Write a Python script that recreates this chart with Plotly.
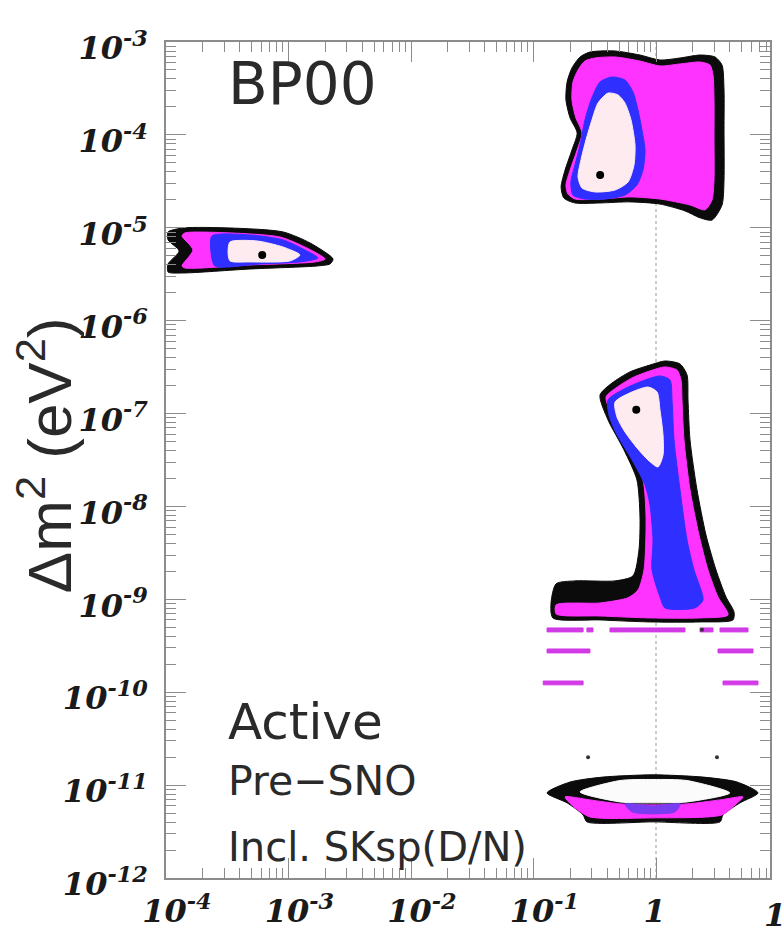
import math
import plotly.graph_objects as go

# ---------------- axis ticks ----------------
x_range_log = [-4, 0.9306]
x_tick_vals = [1e-4, 1e-3, 1e-2, 1e-1, 1]
# the label at 1 carries a transparent tail so that its digit stays centred on the tick
x_tick_text = ["10<sup>-4</sup>", "10<sup>-3</sup>", "10<sup>-2</sup>", "10<sup>-1</sup>",
               "1<span style='color:rgba(0,0,0,0)'><sup>-1</sup></span>"]
x_edge_label = "10"
x_edge_value = 10
y_tick_vals = [1e-12, 1e-11, 1e-10, 1e-9, 1e-8, 1e-7, 1e-6, 1e-5, 1e-4, 1e-3]
y_tick_text = ["10<sup>-12</sup>", "10<sup>-11</sup>", "10<sup>-10</sup>", "10<sup>-9</sup>",
               "10<sup>-8</sup>", "10<sup>-7</sup>", "10<sup>-6</sup>", "10<sup>-5</sup>",
               "10<sup>-4</sup>", "10<sup>-3</sup>"]

# ---------------- allowed regions (tan^2 theta, dm^2 in eV^2) ----------------
# LMA
lma_997_tan2 = [0.206, 0.240, 0.289, 0.463, 0.740, 1.078, 1.570, 2.287, 3.032, 3.458, 3.591, 3.591,
                3.591, 3.458, 2.865, 2.287, 1.725, 1.078, 0.613, 0.349, 0.218, 0.177, 0.168, 0.181,
                0.206, 0.227, 0.199, 0.184, 0.188]
lma_997_dm2 = [5.25e-4, 6.90e-4, 7.80e-4, 8.0e-4, 7.24e-4, 6.40e-4, 6.73e-4, 7.24e-4, 6.90e-4, 5.65e-4,
               3.04e-4, 1.13e-4, 3.27e-5, 1.76e-5, 1.21e-5, 1.28e-5, 1.52e-5, 1.80e-5, 1.90e-5, 1.85e-5,
               1.85e-5, 2.09e-5, 2.75e-5, 4.19e-5, 6.88e-5, 1.05e-4, 1.52e-4, 2.38e-4, 3.71e-4]
lma_99_tan2 = [0.231, 0.263, 0.318, 0.463, 0.740, 1.078, 1.570, 2.287, 2.759, 2.920, 2.976, 2.976,
               2.976, 2.865, 2.512, 1.895, 1.078, 0.613, 0.349, 0.218, 0.191, 0.184, 0.199, 0.227,
               0.249, 0.222, 0.206, 0.210]
lma_99_dm2 = [5.0e-4, 6.24e-4, 6.73e-4, 6.90e-4, 6.24e-4, 5.52e-4, 5.80e-4, 6.09e-4, 5.65e-4, 4.42e-4,
              2.38e-4, 8.81e-5, 3.27e-5, 1.99e-5, 1.56e-5, 1.76e-5, 2.04e-5, 2.15e-5, 2.04e-5, 2.04e-5,
              2.31e-5, 2.89e-5, 4.19e-5, 6.88e-5, 1.05e-4, 1.52e-4, 2.38e-4, 3.71e-4]
lma_95_tan2 = [0.349, 0.437, 0.558, 0.649, 0.713, 0.768, 0.813, 0.783, 0.699, 0.558, 0.384, 0.263,
               0.210, 0.202, 0.218, 0.240, 0.263, 0.295]
lma_95_dm2 = [3.71e-4, 4.20e-4, 3.90e-4, 2.90e-4, 1.85e-4, 1.13e-4, 6.88e-5, 4.19e-5, 2.89e-5, 2.25e-5,
              2.04e-5, 2.04e-5, 2.25e-5, 3.11e-5, 4.74e-5, 7.78e-5, 1.45e-4, 2.38e-4]
lma_90_tan2 = [0.406, 0.490, 0.558, 0.625, 0.674, 0.661, 0.591, 0.463, 0.318, 0.249, 0.231, 0.244,
               0.268, 0.300, 0.336]
lma_90_dm2 = [2.82e-4, 2.69e-4, 2.20e-4, 1.45e-4, 7.78e-5, 4.74e-5, 3.11e-5, 2.55e-5, 2.43e-5, 2.68e-5,
              3.52e-5, 5.37e-5, 8.81e-5, 1.45e-4, 2.20e-4]

# LOW
low_997_tan2 = [0.349, 0.437, 0.613, 0.893, 1.184, 1.570, 1.791, 1.825, 1.895, 2.161, 2.559, 3.090,
                3.728, 4.333, 4.252, 2.287, 0.893, 0.349, 0.144, 0.139, 0.153, 0.218, 0.463, 0.649,
                0.726, 0.740, 0.699, 0.548, 0.406]
low_997_dm2 = [1.58e-7, 2.13e-7, 2.81e-7, 3.33e-7, 3.68e-7, 3.42e-7, 2.61e-7, 1.40e-7, 5.20e-8, 1.51e-8,
               4.93e-9, 2.07e-9, 1.06e-9, 7.32e-10, 6.00e-10, 5.71e-10, 5.71e-10, 6.00e-10, 6.31e-10,
               9.14e-10, 1.47e-9, 1.58e-9, 1.58e-9, 1.79e-9, 3.40e-9, 7.71e-9, 1.93e-8, 4.06e-8, 8.53e-8]
low_99_tan2 = [0.391, 0.472, 0.637, 0.893, 1.184, 1.484, 1.600, 1.630, 1.693, 1.895, 2.244, 2.657,
               3.207, 3.871, 2.287, 0.893, 0.349, 0.153, 0.153, 0.349, 0.591, 0.713, 0.798, 0.829,
               0.783, 0.613, 0.454]
low_99_dm2 = [1.51e-7, 1.89e-7, 2.42e-7, 2.88e-7, 3.18e-7, 2.94e-7, 2.30e-7, 1.40e-7, 5.20e-8, 1.51e-8,
              4.93e-9, 2.07e-9, 1.06e-9, 6.79e-10, 6.31e-10, 6.31e-10, 6.62e-10, 6.97e-10, 8.71e-10,
              9.14e-10, 1.04e-9, 1.26e-9, 2.07e-9, 7.71e-9, 1.93e-8, 4.06e-8, 8.53e-8]
low_95_tan2 = [0.406, 0.528, 0.740, 1.078, 1.301, 1.351, 1.403, 1.570, 1.791, 2.043, 2.419, 2.082,
               1.184, 1.078, 0.928, 0.945, 0.893, 0.813, 0.637, 0.472, 0.413]
low_95_dm2 = [1.40e-7, 1.79e-7, 2.19e-7, 2.54e-7, 2.30e-7, 1.40e-7, 5.20e-8, 1.51e-8, 4.36e-9, 2.07e-9,
              9.86e-10, 8.09e-10, 8.09e-10, 1.06e-9, 2.07e-9, 4.36e-9, 1.04e-8, 1.71e-8, 3.17e-8,
              6.18e-8, 9.66e-8]
low_90_tan2 = [0.463, 0.613, 0.860, 1.019, 1.078, 1.141, 1.141, 1.038, 0.860, 0.699, 0.558, 0.480]
low_90_dm2 = [1.33e-7, 1.67e-7, 1.93e-7, 1.71e-7, 1.09e-7, 5.89e-8, 3.58e-8, 2.66e-8, 3.17e-8, 4.27e-8,
              6.34e-8, 9.19e-8]

# SMA
sma_997_tan2 = [1.04e-4, 1.38e-4, 3.33e-4, 9.02e-4, 1.50e-3, 2.31e-3, 2.18e-3, 1.71e-3, 4.85e-4, 1.38e-4,
                1.04e-4, 1.04e-4, 1.28e-4, 1.04e-4]
sma_997_dm2 = [9.02e-6, 9.95e-6, 9.95e-6, 9.02e-6, 6.86e-6, 4.61e-6, 4.08e-6, 3.88e-6, 3.60e-6, 3.26e-6,
               3.34e-6, 4.08e-6, 5.62e-6, 7.40e-6]
sma_99_tan2 = [1.43e-4, 3.33e-4, 8.52e-4, 1.36e-3, 1.99e-3, 1.65e-3, 4.85e-4, 1.43e-4, 1.35e-4, 1.66e-4,
               1.35e-4]
sma_99_dm2 = [8.80e-6, 8.80e-6, 7.96e-6, 6.21e-6, 4.61e-6, 4.29e-6, 3.98e-6, 3.69e-6, 3.88e-6, 5.77e-6,
              8.17e-6]
sma_95_tan2 = [2.37e-4, 4.85e-4, 9.02e-4, 1.36e-3, 1.74e-3, 1.24e-3, 5.85e-4, 2.51e-4, 2.33e-4]
sma_95_dm2 = [8.17e-6, 8.37e-6, 7.40e-6, 5.77e-6, 4.73e-6, 4.29e-6, 4.08e-6, 3.88e-6, 5.49e-6]
sma_90_tan2 = [3.33e-4, 5.53e-4, 9.02e-4, 1.24e-3, 1.03e-3, 4.85e-4, 3.33e-4, 3.21e-4]
sma_90_dm2 = [7.03e-6, 7.21e-6, 6.21e-6, 5.09e-6, 4.40e-6, 4.29e-6, 4.40e-6, 5.49e-6]

# VAC (lowest island)
vac_997_tan2 = [0.129, 0.199, 0.369, 0.945, 2.419, 4.584, 6.802, 4.850, 3.524, 3.330, 0.945, 0.273,
                0.254, 0.188]
vac_997_dm2 = [8.24e-12, 1.08e-11, 1.22e-11, 1.29e-11, 1.22e-11, 1.08e-11, 8.24e-12, 6.44e-12, 4.78e-12,
               4.02e-12, 4.02e-12, 4.02e-12, 4.78e-12, 6.44e-12]
vac_hole_tan2 = [0.240, 0.508, 0.945, 1.791, 4.000, 1.791, 0.945, 0.508]
vac_hole_dm2 = [8.45e-12, 1.12e-11, 1.15e-11, 1.12e-11, 8.24e-12, 6.59e-12, 6.44e-12, 6.59e-12]
vac_99_tan2 = [0.181, 0.289, 0.508, 0.945, 1.791, 3.330, 5.131, 4.415, 3.458, 0.945, 0.289, 0.218]
vac_99_dm2 = [7.46e-12, 6.93e-12, 6.28e-12, 6.12e-12, 6.28e-12, 6.93e-12, 7.46e-12, 6.12e-12, 4.78e-12,
              4.44e-12, 4.55e-12, 5.69e-12]
vac_95_tan2 = [0.558, 0.945, 1.570, 1.429, 0.945, 0.637]
vac_95_dm2 = [6.28e-12, 5.97e-12, 6.28e-12, 5.15e-12, 4.90e-12, 5.15e-12]

# quasi-vacuum strips: (tan2 from, tan2 to, dm2 low, dm2 high)
qvo_strips = [
    (0.129, 0.254, 4.46e-10, 4.92e-10),
    (0.273, 0.306, 4.46e-10, 4.92e-10),
    (0.421, 1.725, 4.46e-10, 4.92e-10),
    (2.287, 2.920, 4.46e-10, 4.92e-10),
    (3.330, 5.637, 4.46e-10, 4.92e-10),
    (0.129, 0.289, 2.65e-10, 2.92e-10),
    (3.207, 6.192, 2.65e-10, 2.92e-10),
    (0.120, 0.254, 1.20e-10, 1.32e-10),
    (3.524, 6.802, 1.20e-10, 1.32e-10),
]

# best-fit points
best_tan2 = [6.1e-4, 0.35, 0.69]
best_dm2 = [5.1e-6, 3.7e-5, 1.1e-7]
# isolated specks
speck_tan2 = [0.279, 3.147, 2.374]
speck_dm2 = [2.0e-11, 2.0e-11, 4.7e-10]

C997 = "#0b0b0b"
C99 = "#ff33ff"
C95 = "#2f2fff"
C90 = "#fdebf0"
CSTRIP = "#d23ae6"

fig = go.Figure()


def add_region(xs, ys, color, smooth=True):
    fig.add_trace(go.Scatter(
        x=list(xs) + [xs[0]], y=list(ys) + [ys[0]],
        mode="lines", fill="toself", fillcolor=color,
        line=dict(color=color, width=1, shape="spline" if smooth else "linear",
                  smoothing=0.7 if smooth else None),
        hoverinfo="skip", showlegend=False))


for layers in [
    [(sma_997_tan2, sma_997_dm2, C997), (sma_99_tan2, sma_99_dm2, C99),
     (sma_95_tan2, sma_95_dm2, C95), (sma_90_tan2, sma_90_dm2, C90)],
    [(lma_997_tan2, lma_997_dm2, C997), (lma_99_tan2, lma_99_dm2, C99),
     (lma_95_tan2, lma_95_dm2, C95), (lma_90_tan2, lma_90_dm2, C90)],
    [(low_997_tan2, low_997_dm2, C997), (low_99_tan2, low_99_dm2, C99),
     (low_95_tan2, low_95_dm2, C95), (low_90_tan2, low_90_dm2, C90)],
    [(vac_997_tan2, vac_997_dm2, C997), (vac_hole_tan2, vac_hole_dm2, "#fbfbfb"),
     (vac_99_tan2, vac_99_dm2, C99), (vac_95_tan2, vac_95_dm2, "#7a3cf0")],
]:
    for xs, ys, col in layers:
        add_region(xs, ys, col)

for x0, x1, y0, y1 in qvo_strips:
    add_region([x0, x1, x1, x0], [y0, y0, y1, y1], CSTRIP, smooth=False)

fig.add_trace(go.Scatter(x=speck_tan2, y=speck_dm2, mode="markers",
                         marker=dict(color="#333333", size=4), hoverinfo="skip", showlegend=False))
fig.add_trace(go.Scatter(x=best_tan2, y=best_dm2, mode="markers",
                         marker=dict(color="black", size=8), hoverinfo="skip", showlegend=False))

# maximal-mixing reference line
fig.add_shape(type="line", xref="x", yref="paper", x0=1, x1=1, y0=0, y1=1,
              line=dict(color="#9a9a9a", width=1, dash="dot"), layer="below")

minor_x = [m * 10.0 ** e for e in range(-4, 1) for m in range(2, 10)]
minor_y = [m * 10.0 ** e for e in range(-12, -3) for m in range(2, 10)]

AX = "#8c8c8c"
tickfont = dict(family="DejaVu Serif", size=32, color="#1a1a1a", weight="bold", style="italic")

fig.update_xaxes(type="log", range=x_range_log, tickmode="array", tickvals=x_tick_vals,
                 ticktext=x_tick_text, ticks="inside", ticklen=20, tickwidth=1.2, tickcolor=AX,
                 showline=True, linecolor=AX, linewidth=1.5, mirror="ticks", showgrid=False,
                 zeroline=False, tickfont=tickfont, ticklabelstandoff=4, ticklabelshift=11,
                 automargin=False,
                 minor=dict(tickmode="array", tickvals=minor_x, ticks="inside", ticklen=10,
                            tickwidth=1, tickcolor=AX, showgrid=False))
fig.update_yaxes(type="log", range=[-12, -3], tickmode="array", tickvals=y_tick_vals,
                 ticktext=y_tick_text, ticks="inside", ticklen=20, tickwidth=1.2, tickcolor=AX,
                 showline=True, linecolor=AX, linewidth=1.5, mirror="ticks", showgrid=False,
                 zeroline=False, tickfont=tickfont, ticklabelstandoff=10, ticklabelshift=6,
                 automargin=False,
                 minor=dict(tickmode="array", tickvals=minor_y, ticks="inside", ticklen=10,
                            tickwidth=1, tickcolor=AX, showgrid=False))

# decade label sitting just past the right end of the axis
edge_frac = (math.log10(x_edge_value) - x_range_log[0]) / (x_range_log[1] - x_range_log[0])
fig.add_annotation(text=x_edge_label, xref="paper", yref="paper", x=edge_frac,
                   y=-0.044, xanchor="center", yanchor="middle", showarrow=False, xshift=8,
                   font=tickfont)

TXT = "#2a2a2a"
fig.add_annotation(text="BP00", xref="paper", yref="paper", x=0.1, y=0.95,
                   xanchor="left", yanchor="middle", showarrow=False,
                   font=dict(family="DejaVu Sans", size=58, color=TXT))
fig.add_annotation(text="Active", xref="paper", yref="paper", x=0.1, y=0.187,
                   xanchor="left", yanchor="middle", showarrow=False,
                   font=dict(family="DejaVu Sans", size=50, color=TXT))
fig.add_annotation(text="Pre\u2212SNO", xref="paper", yref="paper", x=0.1, y=0.116,
                   xanchor="left", yanchor="middle", showarrow=False,
                   font=dict(family="DejaVu Sans", size=41, color=TXT))
fig.add_annotation(text="Incl. SKsp(D/N)", xref="paper", yref="paper", x=0.1, y=0.037,
                   xanchor="left", yanchor="middle", showarrow=False,
                   font=dict(family="DejaVu Sans", size=40, color=TXT))
fig.add_annotation(text="\u0394m<sup>2</sup> (eV<sup>2</sup>)", xref="paper", yref="paper",
                   x=-0.2, y=0.506, xanchor="center", yanchor="middle", textangle=-90,
                   showarrow=False, font=dict(family="Liberation Sans", size=62, color=TXT))

fig.update_layout(width=782, height=935, margin=dict(l=166, r=12, t=42, b=57),
                  paper_bgcolor="white", plot_bgcolor="white", showlegend=False)

fig.write_html("out.html")
